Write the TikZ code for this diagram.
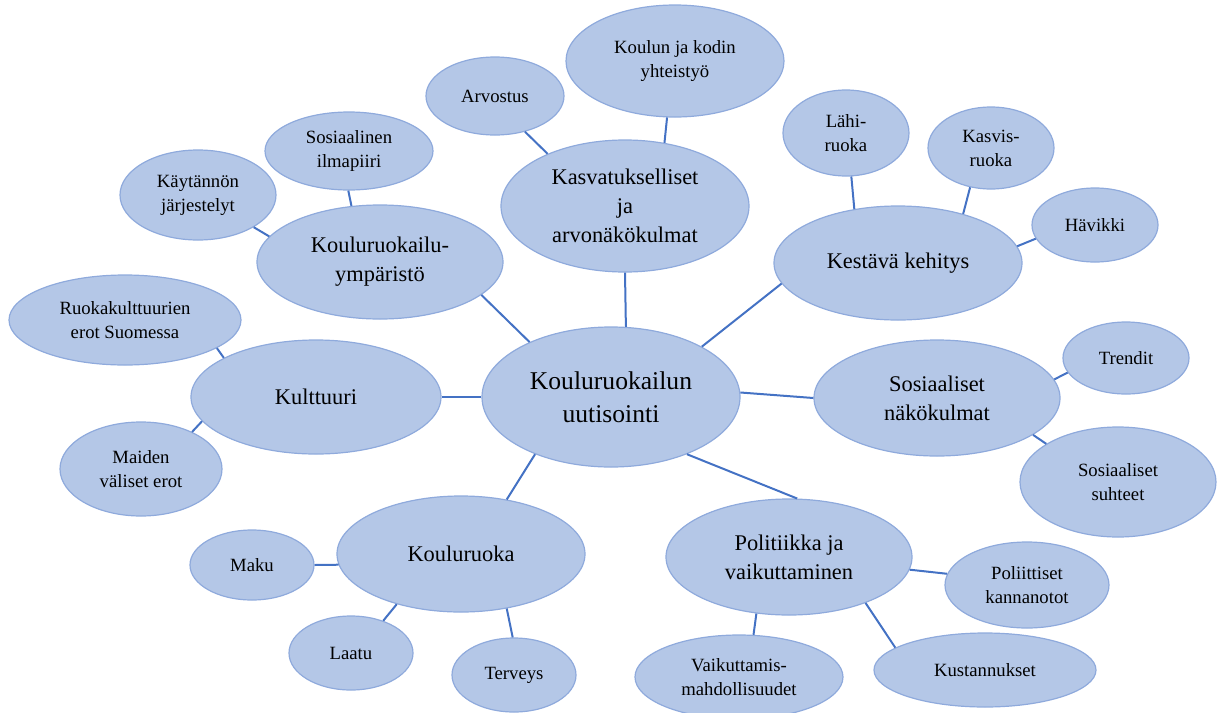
\documentclass[tikz,border=0pt]{standalone}
\usepackage{fontspec}
\setmainfont{Liberation Serif}
\usetikzlibrary{shapes.geometric}
\definecolor{bubfill}{HTML}{B4C7E7}
\definecolor{bubline}{HTML}{8FAADC}
\definecolor{linkblue}{HTML}{4472C4}

\begin{document}
\begin{tikzpicture}[x=0.5pt,y=-0.5pt,
  bub/.style={ellipse,fill=bubfill,draw=bubline,line width=0.6pt,inner sep=0pt,align=center},
  hub/.style={bub,font=\fontsize{12.8}{16.5}\selectfont},
  topic/.style={bub,font=\fontsize{11.2}{14.5}\selectfont},
  leaf/.style={bub,font=\fontsize{9.35}{12}\selectfont},
  link/.style={draw=linkblue,line width=1pt}]
\useasboundingbox (0,0) rectangle (1217,713);
% middle
\node[hub,minimum width=129pt,minimum height=70pt] (uut) at (611,397) {Kouluruokailun\\uutisointi};
% topics
\node[topic,minimum width=124pt,minimum height=66pt] (kasv) at (625,206) {Kasvatukselliset\\ja\\arvonäkökulmat};
\node[topic,minimum width=124pt,minimum height=57pt] (kest) at (898,263) {Kestävä kehitys};
\node[topic,minimum width=123pt,minimum height=57pt] (ymp) at (380,262) {Kouluruokailu-\\ympäristö};
\node[topic,minimum width=125pt,minimum height=57pt] (kult) at (316,397) {Kulttuuri};
\node[topic,minimum width=123pt,minimum height=58pt] (sos) at (937,398) {Sosiaaliset\\näkökulmat};
\node[topic,minimum width=124pt,minimum height=58pt] (kruoka) at (461,554) {Kouluruoka};
\node[topic,minimum width=123pt,minimum height=58pt] (pol) at (789,557) {Politiikka ja\\vaikuttaminen};
% leaves
\node[leaf,minimum width=109pt,minimum height=56pt] (koti) at (675,61) {Koulun ja kodin\\yhteistyö};
\node[leaf,minimum width=69pt,minimum height=39pt] (arvo) at (495,96) {Arvostus};
\node[leaf,minimum width=63pt,minimum height=43pt] (lahi) at (846,133) {Lähi-\\ruoka};
\node[leaf,minimum width=63pt,minimum height=41pt] (kasvis) at (991,148) {Kasvis-\\ruoka};
\node[leaf,minimum width=63pt,minimum height=37pt] (hav) at (1095,225) {Hävikki};
\node[leaf,minimum width=84pt,minimum height=39pt] (ilma) at (349,151) {Sosiaalinen\\ilmapiiri};
\node[leaf,minimum width=78pt,minimum height=45pt] (kayt) at (198,195) {Käytännön\\järjestelyt};
\node[leaf,minimum width=116pt,minimum height=45pt] (erot) at (125,320) {Ruokakulttuurien\\erot Suomessa};
\node[leaf,minimum width=81pt,minimum height=47pt] (maid) at (141,469) {Maiden\\väliset erot};
\node[leaf,minimum width=63pt,minimum height=36pt] (tren) at (1126,358) {Trendit};
\node[leaf,minimum width=98pt,minimum height=55pt] (suht) at (1118,482) {Sosiaaliset\\suhteet};
\node[leaf,minimum width=62pt,minimum height=35pt] (maku) at (252,565) {Maku};
\node[leaf,minimum width=62pt,minimum height=37pt] (laatu) at (351,653) {Laatu};
\node[leaf,minimum width=62pt,minimum height=37pt] (terv) at (514,675) {Terveys};
\node[leaf,minimum width=82pt,minimum height=43pt] (kann) at (1027,585) {Poliittiset\\kannanotot};
\node[leaf,minimum width=104pt,minimum height=42pt] (mahd) at (739,677) {Vaikuttamis-\\mahdollisuudet};
\node[leaf,minimum width=111pt,minimum height=37pt] (kust) at (985,670) {Kustannukset};
% links
\draw[link] (uut.78) -- (kasv.-90);
\draw[link] (uut.29) -- (kest.190);
\draw[link] (uut.146) -- (ymp.-18);
\draw[link] (uut.180) -- (kult.0);
\draw[link] (uut.2) -- (sos.180);
\draw[link] (uut.217) -- (kruoka.50);
\draw[link] (uut.-37) -- (pol.82);
\draw[link] (kasv.58) -- (koti.-98);
\draw[link] (kasv.146) -- (arvo.-50);
\draw[link] (kest.129) -- (lahi.-83);
\draw[link] (kest.37) -- (kasvis.-118);
\draw[link] (kest.8) -- (hav.193);
\draw[link] (ymp.117) -- (ilma.-91);
\draw[link] (ymp.167) -- (kayt.-30);
\draw[link] (kult.157) -- (erot.-17);
\draw[link] (kult.192) -- (maid.36);
\draw[link] (sos.9) -- (tren.194);
\draw[link] (sos.-21) -- (suht.152);
\draw[link] (kruoka.185) -- (maku.0);
\draw[link] (kruoka.218) -- (laatu.45);
\draw[link] (kruoka.-50) -- (terv.92);
\draw[link] (pol.-6) -- (kann.172);
\draw[link] (pol.-120) -- (mahd.71);
\draw[link] (pol.-31) -- (kust.166);
\end{tikzpicture}
\end{document}
